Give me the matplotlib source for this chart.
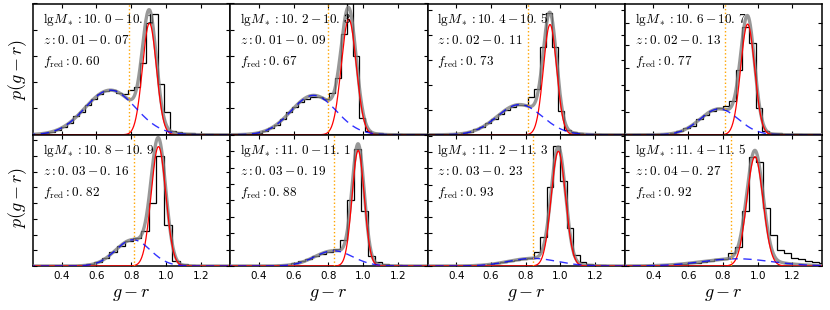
import numpy as np
import matplotlib
matplotlib.use('Agg')
import matplotlib.pyplot as plt
from matplotlib.ticker import MultipleLocator

plt.rcParams['mathtext.fontset'] = 'cm'
plt.rcParams['font.family'] = ['DejaVu Sans']

# ---------------- data ----------------
mass_lo = ['10.0', '10.2', '10.4', '10.6', '10.8', '11.0', '11.2', '11.4']
mass_hi = ['10.1', '10.3', '10.5', '10.7', '10.9', '11.1', '11.3', '11.5']
z_lo = ['0.01', '0.01', '0.02', '0.02', '0.03', '0.03', '0.03', '0.04']
z_hi = ['0.07', '0.09', '0.11', '0.13', '0.16', '0.19', '0.23', '0.27']
f_red = ['0.60', '0.67', '0.73', '0.77', '0.82', '0.88', '0.93', '0.92']

# Gaussian model components (peak height, centre, width)
red_amp = [0.85, 0.88, 0.84, 0.843, 0.91, 0.88, 0.874, 0.833]
red_mu = [0.905, 0.917, 0.940, 0.942, 0.957, 0.971, 0.988, 0.984]
red_sig = [0.040, 0.043, 0.038, 0.040, 0.042, 0.035, 0.041, 0.0465]
blue_amp = [0.34, 0.30, 0.23, 0.197, 0.20, 0.116, 0.058, 0.055]
blue_mu = [0.68, 0.715, 0.765, 0.778, 0.81, 0.83, 0.84, 0.88]
blue_sig = [0.145, 0.13, 0.13, 0.11, 0.10, 0.11, 0.14, 0.20]
cut = [0.785, 0.796, 0.811, 0.809, 0.817, 0.830, 0.840, 0.846]

# histograms
bin_start = [0.220, 0.241, 0.253, 0.266, 0.225, 0.226, 0.237, 0.231]
bin_width = [0.035, 0.035, 0.035, 0.038, 0.045, 0.040, 0.038, 0.040]
hist1 = [0.003, 0.006, 0.012, 0.02, 0.035, 0.06, 0.09, 0.14, 0.17, 0.23, 0.27, 0.31,
         0.33, 0.34, 0.32, 0.31, 0.34, 0.36, 0.55, 0.85, 0.92, 0.39, 0.17, 0.03, 0.02,
         0.015, 0.01, 0.006, 0.004, 0.002, 0.0, 0.0]
hist2 = [0.001, 0.002, 0.004, 0.008, 0.015, 0.03, 0.05, 0.075, 0.12, 0.17, 0.21, 0.25,
         0.27, 0.29, 0.29, 0.27, 0.32, 0.43, 0.77, 1.05, 0.60, 0.13, 0.03, 0.015, 0.01,
         0.006, 0.004, 0.002, 0.001, 0.0, 0.0, 0.0]
hist3 = [0.0, 0.001, 0.002, 0.003, 0.006, 0.012, 0.022, 0.04, 0.06, 0.09, 0.12, 0.16,
         0.19, 0.21, 0.23, 0.23, 0.29, 0.35, 0.67, 0.93, 0.67, 0.18, 0.035, 0.02, 0.012,
         0.007, 0.004, 0.002, 0.001, 0.0, 0.0, 0.0]
hist4 = [0.0, 0.0, 0.0, 0.001, 0.002, 0.005, 0.012, 0.025, 0.05, 0.07, 0.12, 0.15,
         0.18, 0.20, 0.22, 0.26, 0.49, 0.82, 0.70, 0.20, 0.03, 0.015, 0.01, 0.006,
         0.003, 0.002, 0.001, 0.0, 0.0]
hist5 = [0.0, 0.0, 0.0, 0.0, 0.001, 0.003, 0.006, 0.012, 0.03, 0.06, 0.11, 0.15, 0.19,
         0.21, 0.27, 0.48, 0.84, 0.31, 0.04, 0.012, 0.006, 0.003, 0.001, 0.0, 0.0]
hist6 = [0.0, 0.0, 0.0, 0.001, 0.001, 0.002, 0.003, 0.006, 0.01, 0.02, 0.035, 0.055,
         0.075, 0.09, 0.11, 0.13, 0.20, 0.50, 0.89, 0.42, 0.08, 0.03, 0.015, 0.008,
         0.005, 0.003, 0.002, 0.001, 0.0]
hist7 = [0.0, 0.0, 0.0, 0.0, 0.001, 0.001, 0.002, 0.004, 0.008, 0.013, 0.02, 0.028,
         0.037, 0.045, 0.055, 0.06, 0.108, 0.22, 0.60, 0.917, 0.65, 0.29, 0.083, 0.03,
         0.015, 0.008, 0.005, 0.003, 0.001, 0.0]
hist8 = [0.0, 0.001, 0.001, 0.002, 0.003, 0.005, 0.008, 0.012, 0.016, 0.02, 0.026,
         0.032, 0.04, 0.05, 0.055, 0.10, 0.148, 0.42, 0.828, 0.79, 0.44, 0.235, 0.12,
         0.10, 0.06, 0.05, 0.035, 0.03, 0.02]
hists = [hist1, hist2, hist3, hist4, hist5, hist6, hist7, hist8]
ytick_step = [0.2, 0.2, 0.19, 0.17, 0.12, 0.125, 0.124, 0.12]

# ---------------- figure ----------------
fig, axes = plt.subplots(2, 4, figsize=(8.3, 3.1), dpi=100)
fig.subplots_adjust(left=33 / 830, right=822 / 830, bottom=44 / 310,
                    top=1 - 3.5 / 310, wspace=0, hspace=0)

xx = np.linspace(0.2, 1.4, 600)


def gauss(x, a, m, s):
    return a * np.exp(-0.5 * ((x - m) / s) ** 2)


def mtxt(s):
    return s.replace('.', r'.\,')


for i, ax in enumerate(axes.flat):
    h = np.array(hists[i])
    edges = bin_start[i] + bin_width[i] * np.arange(len(h) + 1)
    ax.stairs(h, edges, color='black', lw=0.9, zorder=2)
    red = gauss(xx, red_amp[i], red_mu[i], red_sig[i])
    blue = gauss(xx, blue_amp[i], blue_mu[i], blue_sig[i])
    ax.plot(xx, red + blue, color='#7f7f7f', lw=2.4, alpha=0.8, zorder=3)
    ax.plot(xx, red, color='red', lw=0.9, zorder=4)
    ax.plot(xx, blue, color='blue', lw=1.0, ls=(0, (6, 4)), alpha=0.8, zorder=4)
    ax.axvline(cut[i], color='orange', lw=1.0, ls=':', zorder=5)

    ax.set_xlim(0.235, 1.37)
    ax.set_ylim(0, 1.0)
    ax.xaxis.set_major_locator(MultipleLocator(0.2))
    ax.yaxis.set_major_locator(MultipleLocator(ytick_step[i]))
    ax.tick_params(direction='in', length=3, width=0.8, top=True, right=True,
                   labelleft=False, labelsize=7.5)
    for sp in ax.spines.values():
        sp.set_linewidth(1.1)

    ax.text(0.05, 0.855, r'$\mathrm{lg}M_*:' + mtxt(mass_lo[i]) + '-' + mtxt(mass_hi[i]) + '$',
            transform=ax.transAxes, fontsize=9.5, va='baseline', ha='left', zorder=6)
    ax.text(0.05, 0.695, r'$z:' + mtxt(z_lo[i]) + '-' + mtxt(z_hi[i]) + '$',
            transform=ax.transAxes, fontsize=9.5, va='baseline', ha='left', zorder=6)
    ax.text(0.05, 0.535, r'$f_{\rm red}:' + mtxt(f_red[i]) + '$',
            transform=ax.transAxes, fontsize=9.5, va='baseline', ha='left', zorder=6)

    if i < 4:
        ax.tick_params(labelbottom=False)
    else:
        ax.set_xticks([0.4, 0.6, 0.8, 1.0, 1.2])
        ax.text(0.5, -0.235, r'$g-r$', transform=ax.transAxes, fontsize=13,
                ha='center', va='baseline')

fig.text(18 / 830, 1 - 69 / 310, r'$p(g-r)$', rotation=90, fontsize=13,
         ha='center', va='center')
fig.text(18 / 830, 1 - 197 / 310, r'$p(g-r)$', rotation=90, fontsize=13,
         ha='center', va='center')

fig.savefig('out.png', dpi=100)
